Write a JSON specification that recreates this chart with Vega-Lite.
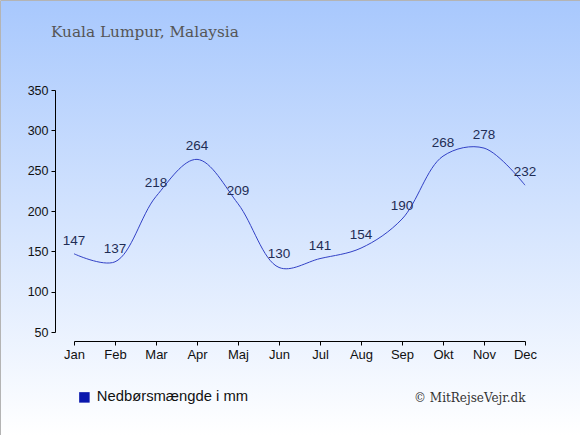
{
  "$schema": "https://vega.github.io/schema/vega-lite/v6.json",
  "width": 580,
  "height": 435,
  "padding": 0,
  "autosize": {"type": "none"},
  "background": "white",
  "config": {
    "view": {
      "fill": {"gradient": "linear", "x1": 0, "y1": 0, "x2": 0, "y2": 1,
        "stops": [{"offset": 0, "color": "#a8c8fd"}, {"offset": 1, "color": "#ffffff"}]},
      "stroke": "#b4b4b4",
      "strokeWidth": 1
    }
  },
  "title": {
    "text": "Kuala Lumpur, Malaysia",
    "anchor": "start",
    "frame": "group",
    "font": "DejaVu Serif",
    "fontSize": 15.3,
    "fontWeight": "normal",
    "color": "#555555",
    "baseline": "alphabetic",
    "offset": -52,
    "dx": 51
  },
  "data": {
    "values": [
      {"month": "Jan", "mm": 147},
      {"month": "Feb", "mm": 137},
      {"month": "Mar", "mm": 218},
      {"month": "Apr", "mm": 264},
      {"month": "Maj", "mm": 209},
      {"month": "Jun", "mm": 130},
      {"month": "Jul", "mm": 141},
      {"month": "Aug", "mm": 154},
      {"month": "Sep", "mm": 190},
      {"month": "Okt", "mm": 268},
      {"month": "Nov", "mm": 278},
      {"month": "Dec", "mm": 232}
    ]
  },
  "encoding": {
    "x": {
      "field": "month",
      "type": "ordinal",
      "sort": null,
      "scale": {"type": "point", "range": [74, 525], "padding": 0},
      "axis": {
        "orient": "bottom",
        "offset": -94,
        "labelAngle": 0,
        "domainColor": "#000000",
        "tickColor": "#000000",
        "tickSize": 4,
        "labelFont": "Liberation Sans",
        "labelFontSize": 13,
        "labelColor": "#111111",
        "labelPadding": 3,
        "grid": false,
        "title": "© MitRejseVejr.dk",
        "titleAnchor": "end",
        "titleFont": "DejaVu Serif",
        "titleFontSize": 12,
        "titleFontWeight": "normal",
        "titleColor": "#333333",
        "titlePadding": 31
      }
    },
    "y": {
      "field": "mm",
      "type": "quantitative",
      "scale": {"domain": [50, 350], "range": [332, 90], "nice": false, "zero": false},
      "axis": {
        "offset": -55,
        "values": [50, 100, 150, 200, 250, 300, 350],
        "domainColor": "#000000",
        "tickColor": "#000000",
        "tickSize": 4,
        "labelFont": "Liberation Sans",
        "labelFontSize": 12.5,
        "labelColor": "#111111",
        "labelPadding": 3,
        "grid": false,
        "title": null
      }
    }
  },
  "layer": [
    {
      "mark": {"type": "line", "interpolate": "catmull-rom", "strokeWidth": 1},
      "encoding": {
        "color": {
          "datum": "Nedbørsmængde i mm",
          "type": "nominal",
          "scale": {"range": ["#3241c6"]},
          "legend": {
            "orient": "none",
            "legendX": 77,
            "legendY": 390,
            "title": null,
            "symbolType": "square",
            "symbolSize": 110,
            "labelFont": "Liberation Sans",
            "labelFontSize": 14.8,
            "labelColor": "#111111",
            "labelOffset": 5,
            "encode": {
              "symbols": {"update": {"fill": {"value": "#0a17ad"}, "stroke": {"value": "#0a17ad"}, "strokeWidth": {"value": 0}}}
            }
          }
        }
      }
    },
    {
      "mark": {"type": "text", "dy": -13, "font": "Liberation Sans", "fontSize": 13.5, "color": "#1f2d55"},
      "encoding": {"text": {"field": "mm", "type": "quantitative"}}
    }
  ]
}
